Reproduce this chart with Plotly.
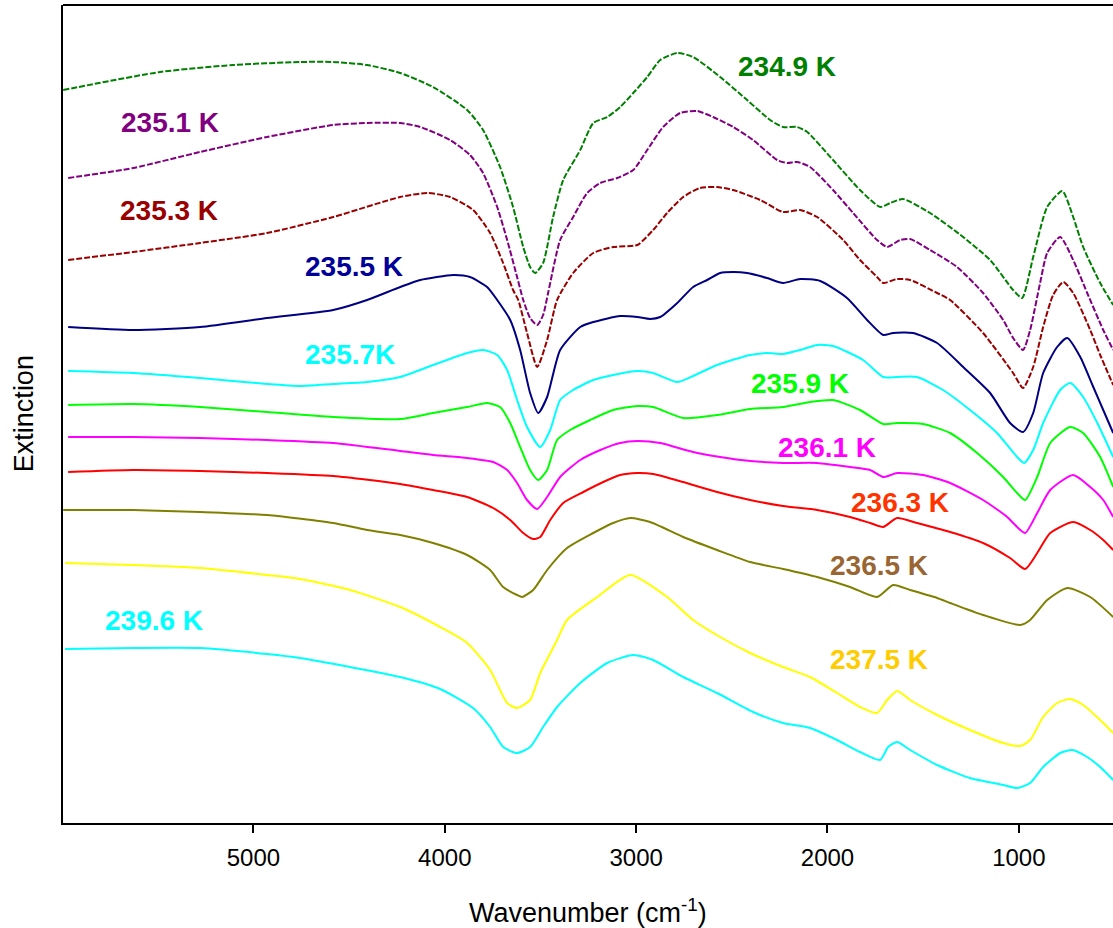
import plotly.graph_objects as go

# FTIR extinction spectra of the ice cloud, stacked by temperature (arbitrary units)

wn_2349 = [5994, 5488, 5106, 4757, 4583, 4406, 4233, 4061, 3883, 3800, 3711, 3643, 3590, 3554, 3528, 3486,
           3434, 3381, 3292, 3224, 3151, 3083, 3015, 2942, 2874, 2785, 2702, 2561, 2420, 2300, 2232, 2159,
           2106, 1971, 1830, 1725, 1672, 1605, 1464, 1291, 1150, 1030, 983, 925, 852, 773, 716, 664, 575, 507]
ext_2349 = [7.33, 7.51, 7.58, 7.61, 7.61, 7.58, 7.50, 7.36, 7.13, 6.93, 6.56, 6.16, 5.76, 5.56, 5.50, 5.60,
            6.06, 6.43, 6.73, 7.00, 7.06, 7.16, 7.30, 7.46, 7.63, 7.70, 7.66, 7.46, 7.23, 7.03, 6.96, 6.96,
            6.91, 6.63, 6.33, 6.16, 6.20, 6.24, 6.10, 5.86, 5.63, 5.33, 5.25, 5.66, 6.16, 6.32, 6.06, 5.76, 5.40, 5.18]

wn_2351 = [5968, 5629, 5279, 4929, 4583, 4406, 4233, 4128, 3972, 3868, 3800, 3726, 3674, 3622, 3590, 3554,
           3517, 3486, 3460, 3397, 3329, 3256, 3187, 3099, 3015, 2942, 2859, 2770, 2681, 2598, 2493, 2389,
           2263, 2211, 2159, 2091, 1971, 1866, 1741, 1688, 1621, 1568, 1464, 1323, 1187, 1082, 1030, 978,
           941, 889, 852, 784, 716, 643, 559, 507]
ext_2351 = [6.45, 6.55, 6.71, 6.86, 6.98, 7.00, 7.00, 6.96, 6.83, 6.68, 6.50, 6.16, 5.83, 5.46, 5.23, 5.05,
            4.98, 5.08, 5.30, 5.83, 6.06, 6.30, 6.40, 6.45, 6.53, 6.73, 6.96, 7.10, 7.12, 7.06, 6.96, 6.83,
            6.63, 6.60, 6.61, 6.56, 6.33, 6.10, 5.83, 5.76, 5.83, 5.84, 5.73, 5.56, 5.30, 5.03, 4.85, 4.73,
            4.93, 5.40, 5.70, 5.86, 5.63, 5.30, 4.93, 4.73]

wn_2353 = [5968, 5629, 5279, 4929, 4583, 4233, 4092, 3972, 3852, 3763, 3695, 3643, 3616, 3570, 3517, 3465,
           3413, 3329, 3224, 3120, 2994, 2911, 2838, 2754, 2666, 2577, 2493, 2352, 2232, 2143, 2054, 1918,
           1830, 1741, 1709, 1636, 1568, 1427, 1359, 1187, 1030, 978, 925, 873, 821, 768, 716, 627, 575, 507]
ext_2353 = [5.63, 5.71, 5.80, 5.90, 6.06, 6.26, 6.30, 6.26, 6.13, 5.90, 5.60, 5.33, 5.23, 4.90, 4.56, 4.83,
            5.23, 5.50, 5.70, 5.76, 5.78, 5.93, 6.10, 6.26, 6.35, 6.36, 6.33, 6.23, 6.11, 6.13, 6.06, 5.83,
            5.63, 5.46, 5.40, 5.44, 5.43, 5.30, 5.23, 4.90, 4.50, 4.35, 4.56, 4.96, 5.28, 5.41, 5.30, 4.93, 4.68, 4.38]

wn_2355 = [5968, 5629, 5279, 4929, 4583, 4406, 4233, 4128, 3956, 3868, 3779, 3726, 3658, 3606, 3554, 3512,
           3465, 3397, 3292, 3224, 3083, 2994, 2927, 2874, 2785, 2702, 2629, 2561, 2493, 2420, 2316, 2232,
           2143, 2038, 1898, 1793, 1709, 1657, 1553, 1427, 1291, 1150, 1046, 978, 925, 873, 800, 747, 679,
           611, 559, 507]
ext_2355 = [4.96, 4.93, 4.96, 5.05, 5.13, 5.23, 5.36, 5.43, 5.48, 5.46, 5.36, 5.23, 5.03, 4.73, 4.30, 4.10,
            4.26, 4.73, 4.96, 5.01, 5.07, 5.06, 5.04, 5.06, 5.20, 5.36, 5.43, 5.50, 5.51, 5.50, 5.45, 5.40,
            5.44, 5.42, 5.25, 5.03, 4.88, 4.90, 4.90, 4.80, 4.56, 4.30, 4.00, 3.91, 4.10, 4.50, 4.76, 4.85, 4.66,
            4.36, 4.13, 3.90]

wn_2357 = [5968, 5629, 5279, 4929, 4757, 4583, 4406, 4233, 4061, 3883, 3800, 3726, 3674, 3622, 3570, 3501,
           3449, 3397, 3329, 3224, 3120, 2994, 2911, 2785, 2702, 2577, 2404, 2316, 2232, 2143, 2054, 1971,
           1814, 1709, 1636, 1532, 1396, 1255, 1114, 1009, 972, 925, 873, 784, 732, 664, 590, 507]
ext_2357 = [4.52, 4.50, 4.45, 4.39, 4.37, 4.39, 4.41, 4.46, 4.58, 4.70, 4.73, 4.68, 4.53, 4.23, 3.96, 3.76,
            3.93, 4.23, 4.33, 4.43, 4.48, 4.52, 4.50, 4.41, 4.47, 4.58, 4.68, 4.70, 4.69, 4.73, 4.78, 4.77,
            4.63, 4.46, 4.46, 4.46, 4.33, 4.13, 3.90, 3.66, 3.60, 3.73, 4.00, 4.33, 4.40, 4.26, 4.00, 3.66]

wn_2359 = [5968, 5629, 5279, 4929, 4583, 4233, 4061, 3883, 3779, 3711, 3658, 3606, 3554, 3512, 3465, 3413,
           3345, 3240, 3120, 2994, 2911, 2754, 2577, 2404, 2232, 2091, 1971, 1830, 1709, 1636, 1501, 1359,
           1218, 1082, 1009, 967, 904, 836, 732, 664, 575, 507]
ext_2359 = [4.18, 4.19, 4.16, 4.11, 4.06, 4.04, 4.10, 4.16, 4.20, 4.16, 4.00, 3.76, 3.53, 3.43, 3.53, 3.83,
            3.93, 4.03, 4.13, 4.17, 4.16, 4.05, 4.08, 4.14, 4.16, 4.21, 4.23, 4.13, 3.99, 4.00, 3.99, 3.90,
            3.70, 3.46, 3.30, 3.23, 3.46, 3.80, 3.96, 3.90, 3.66, 3.36]

wn_2361 = [5968, 5629, 5279, 4929, 4583, 4233, 4061, 3883, 3747, 3674, 3622, 3570, 3517, 3465, 3397, 3292,
           3187, 3083, 2994, 2874, 2702, 2561, 2404, 2232, 2054, 1882, 1777, 1709, 1636, 1501, 1359, 1187,
           1061, 1009, 967, 904, 836, 716, 627, 559, 507]
ext_2361 = [3.86, 3.86, 3.85, 3.83, 3.80, 3.72, 3.68, 3.65, 3.61, 3.53, 3.40, 3.23, 3.14, 3.26, 3.46, 3.63,
            3.73, 3.80, 3.82, 3.80, 3.71, 3.66, 3.62, 3.60, 3.60, 3.56, 3.53, 3.46, 3.50, 3.48, 3.40, 3.23,
            3.06, 2.96, 2.90, 3.10, 3.33, 3.48, 3.36, 3.23, 3.06]

wn_2363 = [5968, 5629, 5279, 4929, 4583, 4233, 4061, 3883, 3747, 3658, 3590, 3538, 3501, 3449, 3381, 3276,
           3172, 3083, 2994, 2911, 2754, 2577, 2404, 2232, 2054, 1882, 1777, 1709, 1636, 1532, 1359, 1187,
           1046, 967, 904, 836, 716, 627, 559, 507]
ext_2363 = [3.51, 3.53, 3.52, 3.50, 3.47, 3.39, 3.33, 3.26, 3.15, 3.03, 2.90, 2.84, 2.86, 3.03, 3.20, 3.31,
            3.41, 3.48, 3.50, 3.49, 3.41, 3.31, 3.23, 3.17, 3.13, 3.06, 3.00, 2.96, 3.05, 3.00, 2.91, 2.80,
            2.65, 2.54, 2.70, 2.90, 3.01, 2.93, 2.83, 2.73]

wn_2365 = [5994, 5629, 5279, 4929, 4583, 4406, 4233, 4061, 3883, 3763, 3695, 3622, 3596, 3538, 3465, 3361,
           3224, 3120, 3031, 2927, 2754, 2577, 2404, 2232, 2054, 1882, 1741, 1657, 1568, 1427, 1359, 1187,
           993, 941, 852, 747, 627, 507]
ext_2365 = [3.13, 3.13, 3.11, 3.08, 3.00, 2.93, 2.88, 2.80, 2.68, 2.53, 2.36, 2.28, 2.26, 2.33, 2.53, 2.75,
            2.90, 3.00, 3.05, 3.01, 2.86, 2.73, 2.61, 2.54, 2.46, 2.36, 2.26, 2.38, 2.33, 2.25, 2.20, 2.08,
            1.98, 2.03, 2.23, 2.35, 2.26, 2.06]

wn_2375 = [5984, 5629, 5279, 4929, 4757, 4495, 4233, 4024, 3883, 3763, 3674, 3622, 3554, 3501, 3413, 3361,
           3203, 3031, 2838, 2702, 2561, 2404, 2232, 2091, 1950, 1830, 1741, 1688, 1636, 1568, 1427, 1255,
           1082, 993, 941, 873, 800, 732, 664, 575, 507]
ext_2375 = [2.60, 2.58, 2.55, 2.48, 2.44, 2.33, 2.16, 1.96, 1.80, 1.53, 1.20, 1.15, 1.23, 1.50, 1.83, 2.03,
            2.26, 2.48, 2.26, 2.03, 1.86, 1.70, 1.56, 1.46, 1.30, 1.16, 1.10, 1.23, 1.32, 1.23, 1.08, 0.93,
            0.80, 0.77, 0.83, 1.06, 1.20, 1.24, 1.18, 1.03, 0.90]

wn_2396 = [5984, 5629, 5279, 4929, 4757, 4495, 4233, 4024, 3852, 3763, 3695, 3622, 3554, 3486, 3413, 3292,
           3151, 3015, 2911, 2754, 2577, 2389, 2232, 2091, 1950, 1830, 1725, 1683, 1636, 1568, 1427, 1255,
           1082, 1009, 941, 873, 784, 721, 643, 575, 507]
ext_2396 = [1.74, 1.75, 1.75, 1.69, 1.65, 1.56, 1.46, 1.34, 1.15, 0.96, 0.76, 0.70, 0.76, 0.96, 1.16, 1.40,
            1.60, 1.68, 1.63, 1.46, 1.30, 1.11, 1.00, 0.95, 0.83, 0.71, 0.63, 0.76, 0.81, 0.73, 0.58, 0.45,
            0.38, 0.35, 0.40, 0.56, 0.70, 0.73, 0.66, 0.56, 0.43]

labels = ["234.9 K", "235.1 K", "235.3 K", "235.5 K", "235.7K", "235.9 K",
          "236.1 K", "236.3 K", "236.5 K", "237.5 K", "239.6 K"]
label_wn = [2211, 5435, 5440, 4474, 4495, 2143, 2002, 1621, 1730, 1730, 5518]
label_ext = [7.57, 7.01, 6.13, 5.57, 4.69, 4.40, 3.76, 3.21, 2.58, 1.64, 2.03]

series = [
    (wn_2349, ext_2349, "#008000", "#008000", True),
    (wn_2351, ext_2351, "#800080", "#800080", True),
    (wn_2353, ext_2353, "#990000", "#990000", True),
    (wn_2355, ext_2355, "#000080", "#000099", False),
    (wn_2357, ext_2357, "#00FFFF", "#00FFFF", False),
    (wn_2359, ext_2359, "#00FF00", "#00FF00", False),
    (wn_2361, ext_2361, "#FF00FF", "#FF00FF", False),
    (wn_2363, ext_2363, "#FF0000", "#FF3300", False),
    (wn_2365, ext_2365, "#808000", "#996633", False),
    (wn_2375, ext_2375, "#FFFF00", "#FFCC00", False),
    (wn_2396, ext_2396, "#00FFFF", "#00FFFF", False),
]

FONT = "Arial, Liberation Sans, sans-serif"

fig = go.Figure()
for (wn, ext, line_col, _, dashed), name in zip(series, labels):
    fig.add_trace(go.Scatter(
        x=wn, y=ext, mode="lines", name=name,
        line=dict(color=line_col, width=2.0, shape="spline", smoothing=0.6,
                  dash="6px,2px" if dashed else "solid"),
        hoverinfo="skip", showlegend=False,
    ))

for (_, _, _, text_col, _), text, xw, ye in zip(series, labels, label_wn, label_ext):
    fig.add_annotation(x=xw, y=ye, text="<b>%s</b>" % text, showarrow=False,
                       xanchor="center", yanchor="middle",
                       font=dict(family=FONT, size=28, color=text_col))

# axis titles
fig.add_annotation(x=0.5, y=-0.108, xref="paper", yref="paper",
                   text="Wavenumber (cm<sup>-1</sup>)", showarrow=False,
                   xanchor="center", yanchor="middle",
                   font=dict(family=FONT, size=27, color="black"))
fig.add_annotation(x=-0.037, y=0.5, xref="paper", yref="paper",
                   text="Extinction", showarrow=False, textangle=-90,
                   xanchor="center", yanchor="middle",
                   font=dict(family=FONT, size=27, color="black"))

# top frame edge
fig.add_shape(type="line", xref="paper", yref="paper", x0=0, x1=1, y0=1, y1=1,
              line=dict(color="black", width=2))

fig.update_layout(
    width=1113, height=928,
    margin=dict(l=63, r=0, t=5, b=105),
    paper_bgcolor="white", plot_bgcolor="white",
    font=dict(family=FONT, color="black"),
    xaxis=dict(range=[5995, 508], showgrid=False, zeroline=False,
               showline=True, linecolor="black", linewidth=2,
               ticks="outside", ticklen=8, tickwidth=2, tickcolor="black",
               ticklabelstandoff=4,
               tickvals=[5000, 4000, 3000, 2000, 1000],
               tickfont=dict(family=FONT, size=24, color="black")),
    yaxis=dict(range=[0, 8.18], showgrid=False, zeroline=False,
               showline=True, linecolor="black", linewidth=2,
               showticklabels=False, ticks=""),
)

fig.write_html("out.html")
